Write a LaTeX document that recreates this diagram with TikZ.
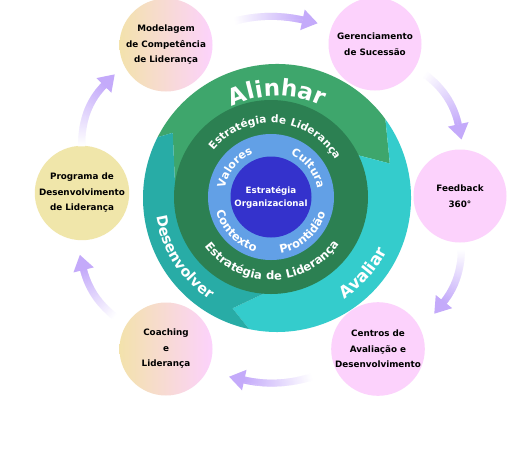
\documentclass[tikz,border=0pt]{standalone}
\usepackage{fontspec}
\setmainfont{DejaVu Sans}
\newfontfamily\curvefont[LetterSpace=5]{DejaVu Sans}
\usetikzlibrary{calc,decorations.text,decorations.markings}
\definecolor{gA}{RGB}{62,166,108}
\definecolor{gD}{RGB}{44,128,82}
\definecolor{tL}{RGB}{52,204,204}
\definecolor{tD}{RGB}{40,172,166}
\definecolor{bL}{RGB}{98,160,230}
\definecolor{bD}{RGB}{52,50,204}
\definecolor{lav}{RGB}{196,170,250}
\definecolor{pk}{RGB}{252,210,252}
\definecolor{yl}{RGB}{240,230,170}
\definecolor{bg}{RGB}{243,226,172}
\begin{document}
\begin{tikzpicture}[x=1pt,y=-1pt,
  sat/.style={circle, minimum size=93pt, inner sep=0pt, align=center,
    font=\bfseries\fontsize{8.8}{15.5}\selectfont, text=black},
  lavarrow/.style 2 args={postaction={decorate, decoration={markings,
     mark=between positions #1 and #2 step 1pt with {
        \pgfmathsetmacro{\lvfr}{max(0,min(1,(\pgfkeysvalueof{/pgf/decoration/mark info/distance from start}/\pgfdecoratedpathlength-#1)/(#2-#1)))}
        \pgfmathtruncatemacro{\lvpc}{100*\lvfr}
        \fill[lav!\lvpc!white] (-0.7pt,-3.5pt) rectangle (0.7pt,3.5pt);},
     mark=at position #2 with {\fill[lav] (-0.5pt,-10.5pt) -- (15pt,0pt) -- (-0.5pt,10.5pt) -- cycle;}}}},
  ctext/.style 2 args={decorate, decoration={text along path, text={|#1|#2},
     text align=center, text color=white}}
]
\useasboundingbox (0,0) rectangle (522,459);
\fill[white] (0,0) rectangle (522,459);
\coordinate (O) at (277,198);
\coordinate (Oi) at (271,197);
% outer ring segments
\fill[gA] ($(O)+(-153:134)$) arc[start angle=-153, end angle=-36, radius=134]
  -- ($(O)+(-17:118)$) -- ($(O)+(-30:88)$) arc[start angle=-30, end angle=-175.5, radius=88]
  -- ($(O)+(184.5:102)$) -- ($(O)+(-148:123)$) -- cycle;
\fill[tL] ($(O)+(-36:134)$) arc[start angle=-36, end angle=102, radius=134]
  -- ($(O)+(112:119)$) -- ($(O)+(88:88)$) arc[start angle=88, end angle=-30, radius=88]
  -- ($(O)+(-17:118)$) -- cycle;
\fill[tD] ($(O)+(102:134)$) arc[start angle=102, end angle=207, radius=134]
  -- ($(O)+(-148:123)$) -- ($(O)+(184.5:102)$) -- ($(O)+(184.5:88)$)
  arc[start angle=184.5, end angle=88, radius=88]
  -- ($(O)+(112:119)$) -- cycle;
% inner discs
\fill[gD] (Oi) circle[radius=97];
\fill[bL] (Oi) circle[radius=63];
\fill[bD] (Oi) circle[radius=40.5];
\node[align=center, text=white, font=\bfseries\fontsize{8.7}{13}\selectfont] (core) at (Oi) {Estratégia\\Organizacional};
% curved texts
\path[ctext={\bfseries\fontsize{23}{26}\selectfont}{Alinhar}]
  ($(O)+(-130:102)$) arc[start angle=-130, end angle=-50, radius=102];
\path[ctext={\curvefont\bfseries\fontsize{14.5}{18}\selectfont}{Desenvolver}]
  ($(O)+(200:122)$) arc[start angle=200, end angle=95, radius=122];
\path[ctext={\curvefont\bfseries\fontsize{16.5}{20}\selectfont}{Avaliar}]
  ($(O)+(81:122)$) arc[start angle=81, end angle=1, radius=122];
\path[ctext={\curvefont\bfseries\fontsize{10.6}{14}\selectfont}{Estratégia de Liderança}]
  ($(Oi)+(-160:74)$) arc[start angle=-160, end angle=-11, radius=74];
\path[ctext={\curvefont\bfseries\fontsize{11.6}{14}\selectfont}{Estratégia de Liderança}]
  ($(Oi)+(165:83)$) arc[start angle=165, end angle=13, radius=83];
\path[ctext={\curvefont\bfseries\fontsize{11}{13}\selectfont}{Valores}]
  ($(Oi)+(-181:47)$) arc[start angle=-181, end angle=-101, radius=47];
\path[ctext={\curvefont\bfseries\fontsize{11}{13}\selectfont}{Cultura}]
  ($(Oi)+(-77.5:47)$) arc[start angle=-77.5, end angle=2.5, radius=47];
\path[ctext={\curvefont\bfseries\fontsize{11.5}{13}\selectfont}{Contexto}]
  ($(Oi)+(180:57)$) arc[start angle=180, end angle=91, radius=57];
\path[ctext={\curvefont\bfseries\fontsize{11.5}{13}\selectfont}{Prontidão}]
  ($(Oi)+(95:57)$) arc[start angle=95, end angle=2, radius=57];
% satellites
\node[sat, left color=bg, right color=pk] (mod) at (166,45) {Modelagem\\de Competência\\de Liderança};
\node[sat, fill=pk] (ger) at (375,44) {Gerenciamento\\de Sucessão};
\node[sat, fill=pk] (fb) at (460,196) {Feedback\\360°};
\node[sat, fill=pk] (cen) at (378,349) {Centros de\\Avaliação e\\Desenvolvimento};
\node[sat, left color=bg, right color=pk] (coa) at (166,349) {Coaching\\e\\Liderança};
\node[sat, fill=yl] (prog) at (82,193) {Programa de\\Desenvolvimento\\de Liderança};
% connectors
\path[lavarrow={0.21}{0.765}] (mod) to[bend left=20] (ger);
\path[lavarrow={0.12}{0.75}] (ger) to[bend left=30] (fb);
\path[lavarrow={0.08}{0.65}] (fb) to[bend left=30] (cen);
\path[lavarrow={0.19}{0.715}] (cen) to[bend left=24] (coa);
\path[lavarrow={0.14}{0.71}] (coa) to[bend left=30] (prog);
\path[lavarrow={0.0}{0.71}] (prog) to[bend left=30] (mod);
\end{tikzpicture}
\end{document}
